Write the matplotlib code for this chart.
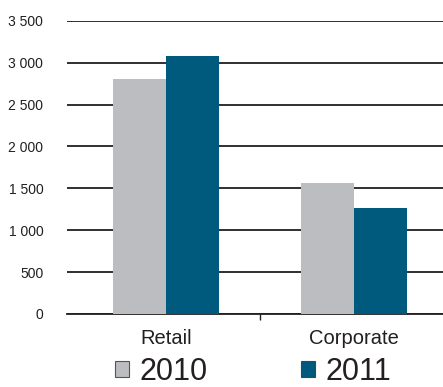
import matplotlib
matplotlib.use("Agg")
import matplotlib.pyplot as plt
from matplotlib.patches import Patch
from matplotlib.ticker import FuncFormatter
import numpy as np

plt.rcParams['font.family'] = ['Liberation Sans', 'DejaVu Sans']

# Datos
categories = ['Retail', 'Corporate']
years = ['2010', '2011']
values_2010 = [2800, 1560]
values_2011 = [3085, 1270]
colors = ['#bcbdc0', '#005a7e']
text_color = '#231f20'

fig = plt.figure(figsize=(4.43, 3.87), dpi=100)
ax = fig.add_axes([0.151, 0.189, 0.849, 0.757])

x = np.arange(len(categories))
width = 0.28
ax.bar(x - width / 2, values_2010, width, color=colors[0], zorder=3)
ax.bar(x + width / 2, values_2011, width, color=colors[1], zorder=3)

ax.set_xlim(-0.527, 1.473)
ax.set_ylim(0, 3500)
ax.set_yticks(np.arange(0, 3501, 500))
ax.yaxis.set_major_formatter(FuncFormatter(lambda v, p: f"{int(v):,}".replace(',', ' ')))
ax.yaxis.grid(True, color=text_color, linewidth=1.3, zorder=1)
ax.tick_params(axis='y', length=0, pad=17, labelsize=10, labelcolor=text_color)

# separador entre categorias
ax.set_xticks([0.5])
ax.set_xticklabels([''])
ax.tick_params(axis='x', length=4, width=1, color=text_color)
for xi, c in zip(x, categories):
    ax.text(xi, -300, c, ha='center', va='center', fontsize=14.5,
            color=text_color, transform=ax.transData)

for s in ['top', 'right', 'left']:
    ax.spines[s].set_visible(False)
ax.spines['bottom'].set_color(text_color)
ax.spines['bottom'].set_linewidth(1.3)

handles = [Patch(facecolor=colors[0], edgecolor='#555555', linewidth=0.8),
           Patch(facecolor=colors[1], edgecolor='#444444', linewidth=0.8)]
fig.legend(handles, years, loc='lower left', bbox_to_anchor=(0.26, 0.0),
           ncol=2, frameon=False, fontsize=22, handlelength=0.46, handleheight=0.46,
           handletextpad=0.35, columnspacing=3.05, borderpad=0, borderaxespad=0,
           labelcolor=text_color)

plt.savefig('out.png', dpi=100)
